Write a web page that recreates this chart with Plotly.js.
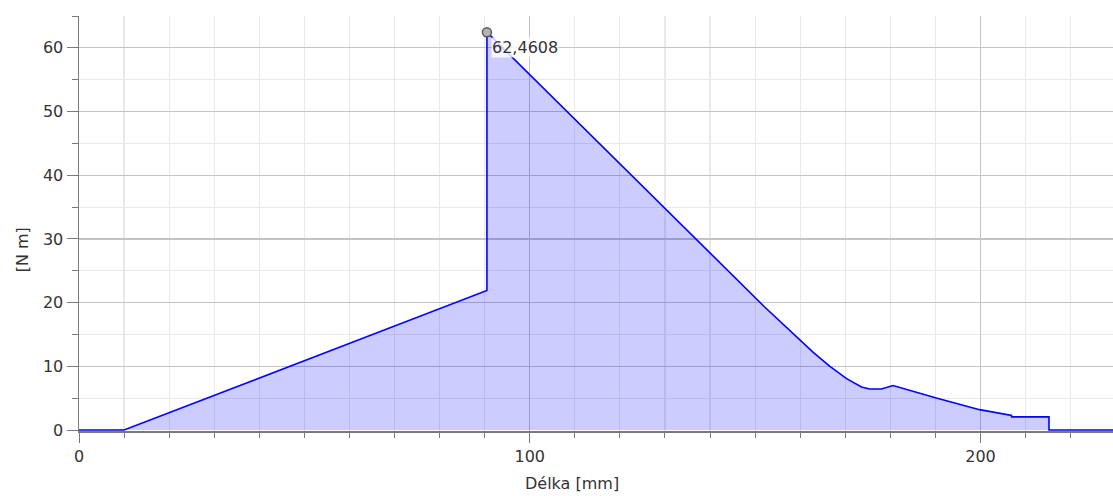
<!DOCTYPE html>
<html>
<head>
<meta charset="utf-8">
<script src="https://cdn.plot.ly/plotly-3.0.1.min.js"></script>
<style>
html,body{margin:0;padding:0;background:#fff;}
#chart{width:1113px;height:496px;}
</style>
</head>
<body>
<div id="chart"></div>
<script>
// Délka [mm] (x) and moment [N m] (y)
const lengthMm = [0, 10, 90.5, 90.5, 152, 159.2, 162.9, 166.6, 170.3, 173.6, 175.4, 178.0, 180.6, 190.2, 199.8, 206.9, 206.9, 215.2, 215.2, 229.4];
const momentNm = [0, 0, 21.9, 62.46, 19.4, 14.65, 12.2, 10.0, 8.07, 6.77, 6.45, 6.45, 7.0, 5.04, 3.2, 2.3, 2.07, 2.07, 0, 0];
const peakX = [90.5];
const peakY = [62.46];
const peakLabel = "62,4608";
const xTitle = "Délka [mm]";
const yTitle = "[N m]";

const font = {family: "DejaVu Sans, Verdana, sans-serif", size: 16, color: "#333333"};

const traces = [
  {
    x: lengthMm, y: momentNm, type: "scatter", mode: "lines",
    fill: "tozeroy", fillcolor: "rgba(0,0,255,0.2)",
    line: {color: "#0000ff", width: 1.6},
    hoverinfo: "skip", showlegend: false
  },
  {
    x: peakX, y: peakY, type: "scatter", mode: "markers",
    marker: {size: 9, color: "#b4b4b4", line: {color: "#5a5a5a", width: 1.5}},
    cliponaxis: false, hoverinfo: "skip", showlegend: false
  }
];

const layout = {
  width: 1113, height: 496,
  margin: {l: 79, r: 0, t: 16, b: 65, pad: 0},
  paper_bgcolor: "#ffffff", plot_bgcolor: "#ffffff",
  showlegend: false,
  xaxis: {
    range: [0, 229.4], tick0: 0, dtick: 100,
    ticks: "outside", ticklen: 10, tickwidth: 1, tickcolor: "#7a7a7a",
    showline: true, linecolor: "#7a7a7a", linewidth: 1.5,
    showgrid: true, gridcolor: "#c4c4c4", gridwidth: 1.2,
    zeroline: false, layer: "below traces",
    tickfont: font,
    minor: {dtick: 10, ticks: "outside", ticklen: 5, tickcolor: "#7a7a7a", showgrid: true, gridcolor: "#e9e9e9", gridwidth: 1.2}
  },
  yaxis: {
    range: [-0.15, 65], tick0: 0, dtick: 10,
    ticks: "outside", ticklen: 11, tickwidth: 1, tickcolor: "#7a7a7a",
    showline: true, linecolor: "#7a7a7a", linewidth: 1.5,
    showgrid: true, gridcolor: "#c4c4c4", gridwidth: 1.2,
    zeroline: false, layer: "below traces",
    tickfont: font,
    minor: {dtick: 5, ticks: "outside", ticklen: 6, tickcolor: "#7a7a7a", showgrid: true, gridcolor: "#e9e9e9", gridwidth: 1.2}
  },
  annotations: [
    {
      x: peakX[0], y: peakY[0], xref: "x", yref: "y",
      text: peakLabel, showarrow: false,
      xanchor: "left", yanchor: "middle", xshift: 4, yshift: -15,
      bgcolor: "rgba(255,255,255,0.8)", borderpad: 0,
      font: font
    },
    {
      x: 0.4765, y: 0, xref: "paper", yref: "paper",
      text: xTitle, showarrow: false,
      xanchor: "center", yanchor: "middle", yshift: -52,
      font: font
    },
    {
      x: 0, y: 0.4355, xref: "paper", yref: "paper",
      text: yTitle, showarrow: false, textangle: -90,
      xanchor: "center", yanchor: "middle", xshift: -57,
      font: font
    }
  ]
};

Plotly.newPlot("chart", traces, layout, {staticPlot: true, displayModeBar: false});
</script>
</body>
</html>
